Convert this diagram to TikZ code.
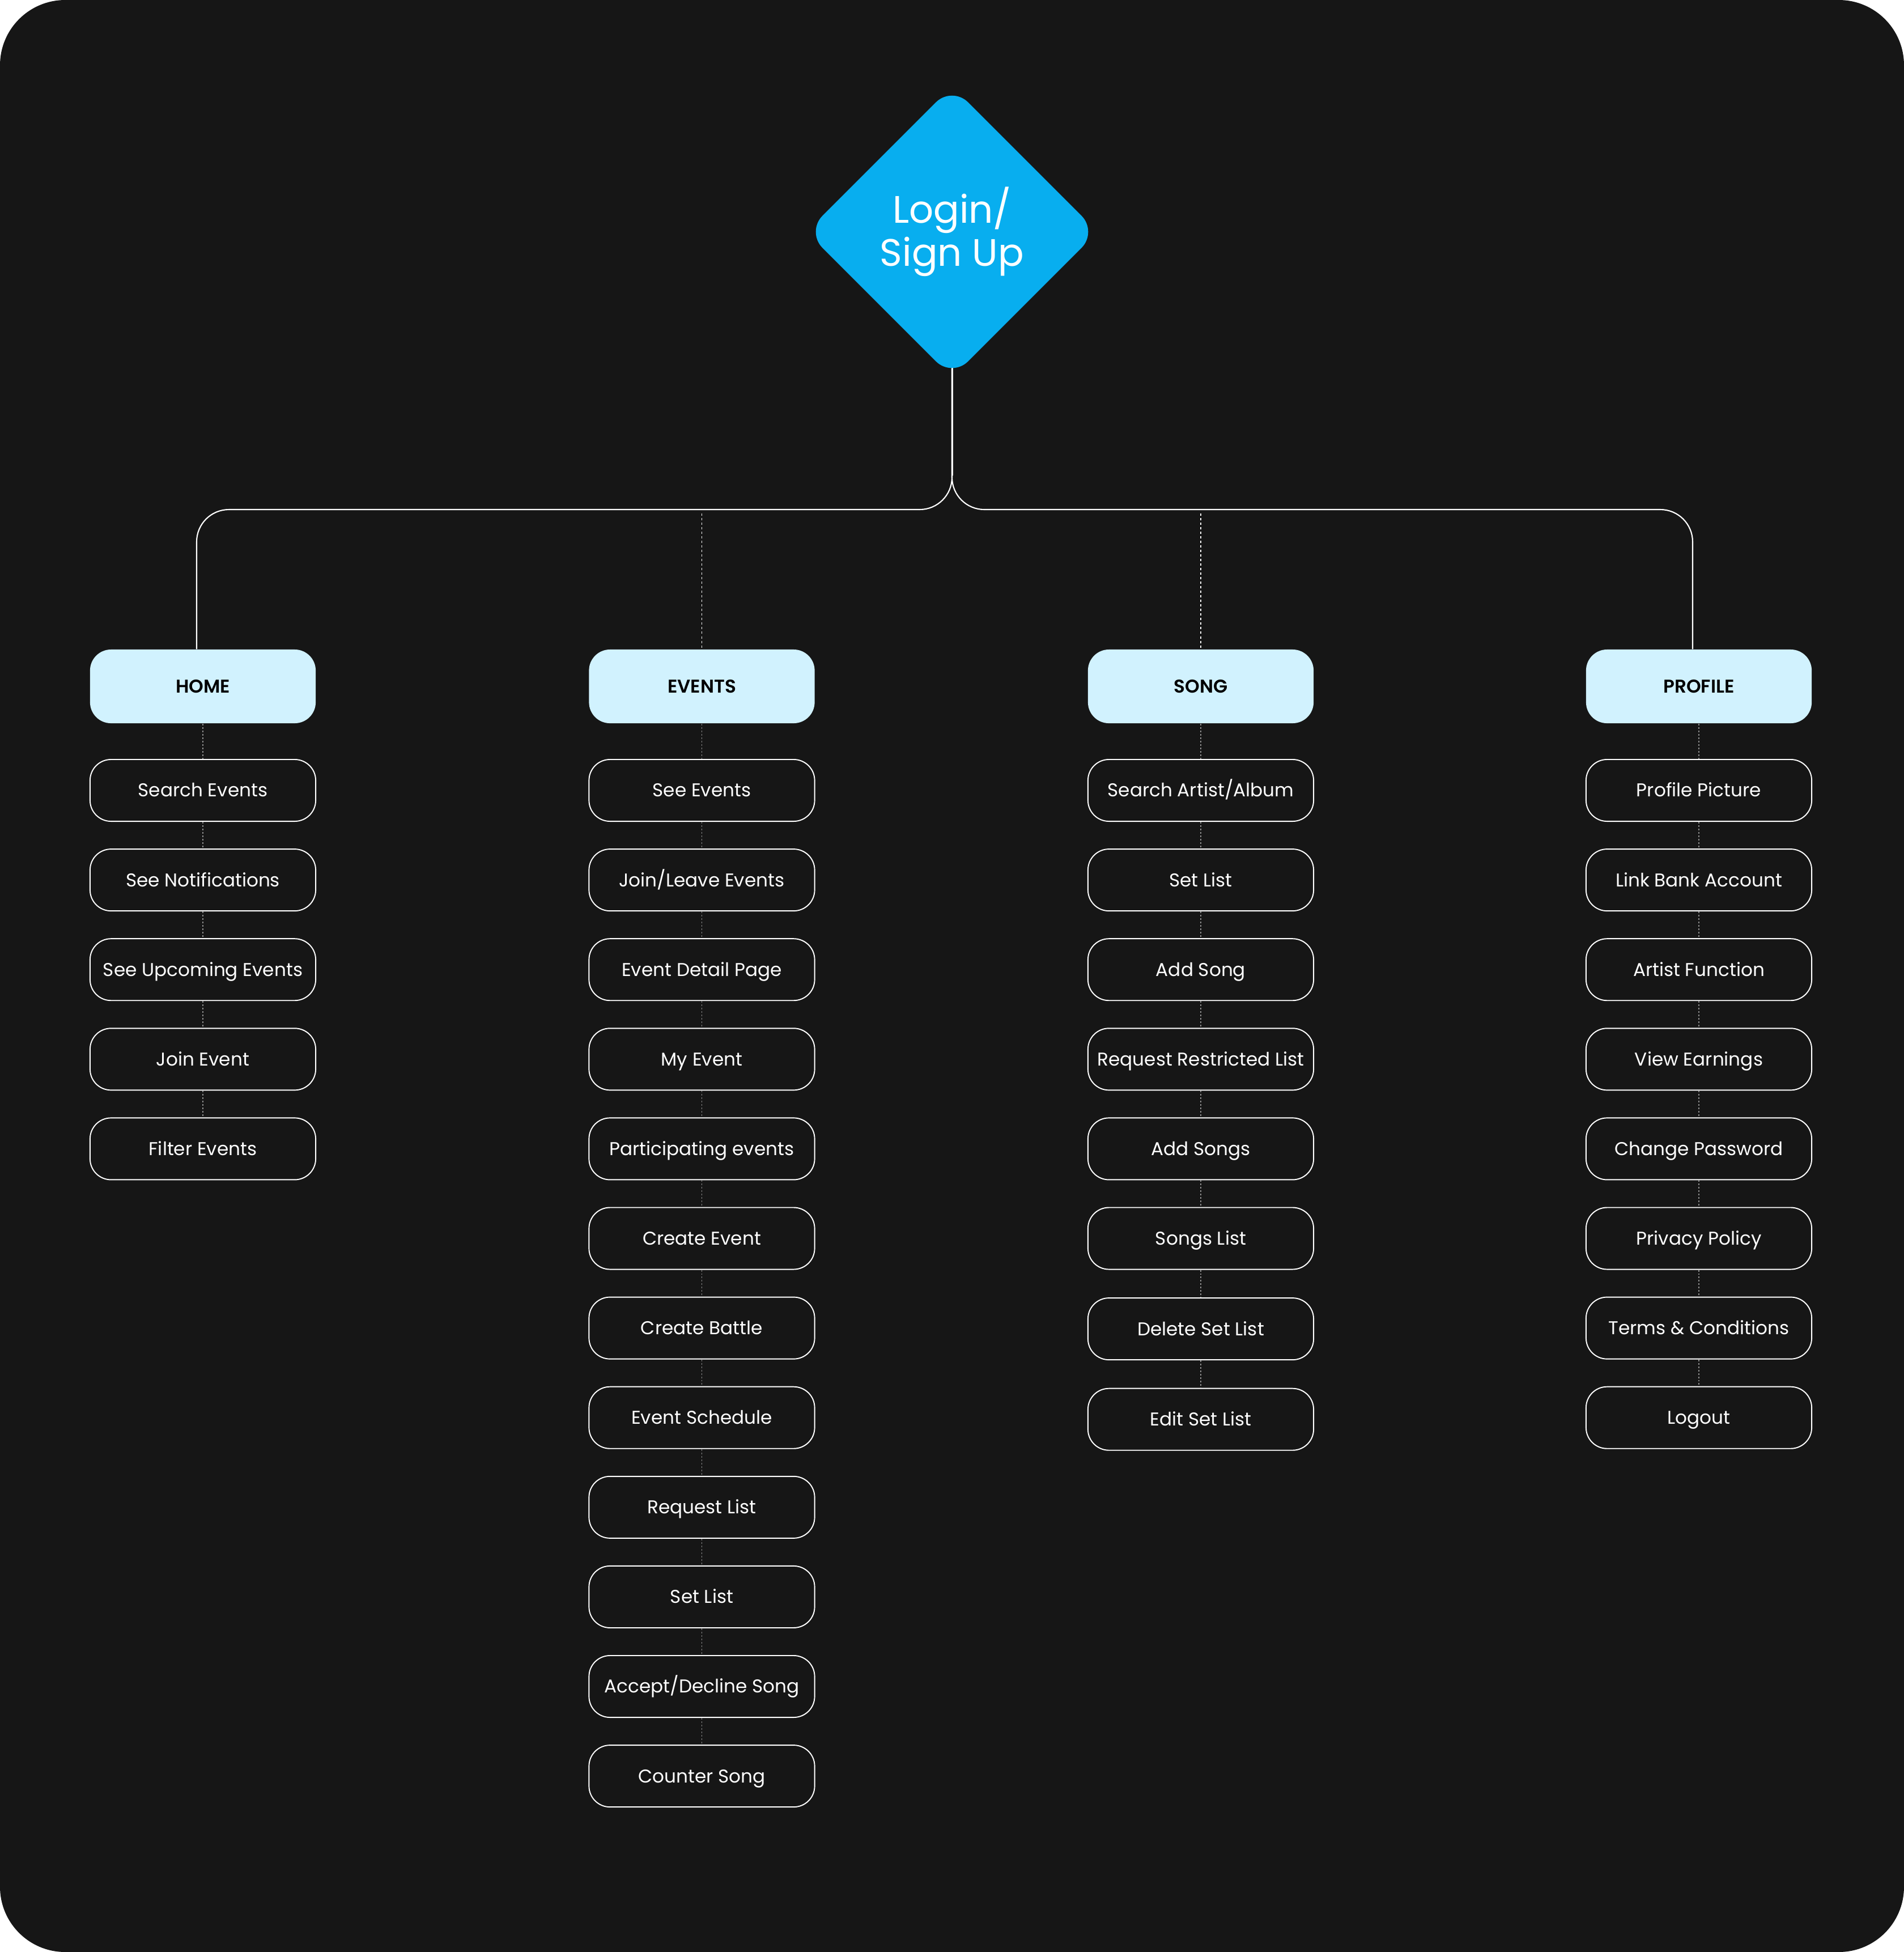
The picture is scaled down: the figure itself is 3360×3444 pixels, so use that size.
\documentclass[tikz,border=0pt]{standalone}
\usepackage{fontspec}
\setmainfont{Poppins}[BoldFont=Poppins SemiBold]
\usetikzlibrary{shapes.geometric}
\pgfdeclarelayer{background}
\pgfsetlayers{background,main}
\definecolor{bg}{HTML}{161616}
\definecolor{loginc}{HTML}{08AEEF}
\definecolor{headc}{HTML}{D1F2FE}
\definecolor{dotc}{HTML}{8C8C8C}
\tikzset{
  headbox/.style={rectangle, rounded corners=0.37cm, fill=headc, minimum width=3.98cm,
    minimum height=1.30cm, inner sep=0pt, text=black,
    font=\bfseries\fontsize{9.3}{11}\selectfont, text height=6.5pt, text depth=0pt},
  itembox/.style={rectangle, rounded corners=0.37cm, draw=white!88, line width=0.55pt,
    minimum width=3.98cm, minimum height=1.09cm, inner sep=0pt, text=white,
    font=\fontsize{9.3}{11}\selectfont, text height=6.5pt, text depth=0pt},
  mainline/.style={draw=white, line width=0.6pt, rounded corners=0.57cm},
  topdash/.style={draw=white, line width=0.55pt, dash pattern=on 1.14pt off 1.14pt},
  dotline/.style={draw=dotc, line width=0.55pt, dash pattern=on 0.85pt off 0.85pt}
}
\begin{document}
\begin{tikzpicture}[x=0.01cm, y=-0.01cm]
\useasboundingbox (0,0) rectangle (3360,3444);
\begin{pgfonlayer}{background}
\fill[white] (0,0) rectangle (3360,3444);
\fill[bg, rounded corners=1.15cm] (0,0) rectangle (3360,3444);
\end{pgfonlayer}

% root
\node[diamond, fill=loginc, minimum width=5.14cm, minimum height=5.14cm, inner sep=0pt,
  rounded corners=0.4cm, text=white, align=center,
  font=\fontsize{19.2}{21.5}\selectfont] (login) at (1680,409) {Login/\\Sign Up};

% headers
\node[headbox] (c1-0) at (358,1211) {HOME};
\node[headbox] (c2-0) at (1238.5,1211) {EVENTS};
\node[headbox] (c3-0) at (2119,1211) {SONG};
\node[headbox] (c4-0) at (2998,1211) {PROFILE};

% children
\foreach \t [count=\i] in {Search Events, See Notifications, See Upcoming Events, Join Event, Filter Events}
  \node[itembox] (c1-\i) at (358,{1394.5+158.1*(\i-1)}) {\t};
\foreach \t [count=\i] in {See Events, Join/Leave Events, Event Detail Page, My Event, Participating events, Create Event, Create Battle, Event Schedule, Request List, Set List, Accept/Decline Song, Counter Song}
  \node[itembox] (c2-\i) at (1238.5,{1394.5+158.1*(\i-1)}) {\t};
\foreach \t/\dy [count=\i] in {{Search Artist/Album}/0, {Set List}/0, {Add Song}/0, {Request Restricted List}/0, {Add Songs}/0, {Songs List}/0, {Delete Set List}/1.5, {Edit Set List}/3}
  \node[itembox] (c3-\i) at (2119,{1394.5+158.1*(\i-1)+\dy}) {\t};
\foreach \t [count=\i] in {Profile Picture, Link Bank Account, Artist Function, View Earnings, Change Password, Privacy Policy, Terms \& Conditions, Logout}
  \node[itembox] (c4-\i) at (2998,{1394.5+158.1*(\i-1)}) {\t};

% connectors
\coordinate (hub) at (1680,899);
\coordinate (evtop) at (1238.5,906);
\coordinate (sotop) at (2119,906);
\begin{pgfonlayer}{background}
\draw[mainline] (login.center) -- (hub) -| ([xshift=-0.11cm]c1-0.north);
\draw[mainline] (login.center) -- (hub) -| ([xshift=-0.11cm]c4-0.north);
\draw[draw=white, line width=0.85pt] (login.center) -- ([yshift=0.6cm]hub);
\end{pgfonlayer}
\draw[topdash] (evtop) -- (c2-0.north);
\draw[topdash] (sotop) -- (c3-0.north);

\foreach \i [evaluate=\i as \p using int(\i-1)] in {1,...,5}
  \draw[dotline] (c1-\p.south) -- (c1-\i.north);
\foreach \i [evaluate=\i as \p using int(\i-1)] in {1,...,12}
  \draw[dotline] (c2-\p.south) -- (c2-\i.north);
\foreach \i [evaluate=\i as \p using int(\i-1)] in {1,...,8}
  \draw[dotline] (c3-\p.south) -- (c3-\i.north);
\foreach \i [evaluate=\i as \p using int(\i-1)] in {1,...,8}
  \draw[dotline] (c4-\p.south) -- (c4-\i.north);
\end{tikzpicture}
\end{document}
